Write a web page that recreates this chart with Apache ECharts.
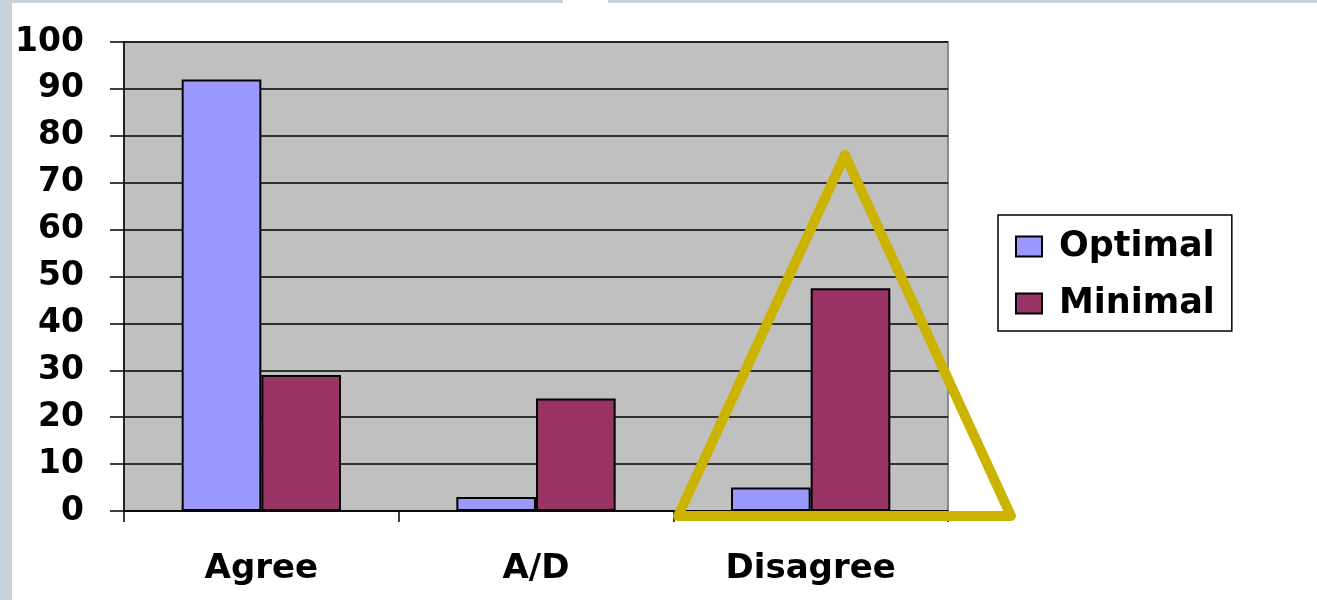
<!DOCTYPE html>
<html>
<head>
<meta charset="utf-8">
<script src="https://cdn.jsdelivr.net/npm/echarts@6/dist/echarts.min.js"></script>
<style>
  html, body { margin: 0; padding: 0; background: #ffffff; }
  #chart { width: 1317px; height: 600px; }
</style>
</head>
<body>
<div id="chart"></div>
<script>
// Survey responses by category
const categories = ['Agree', 'A/D', 'Disagree'];
const optimal = [92, 3, 5];
const minimal = [29, 24, 47.5];
const seriesNames = ['Optimal', 'Minimal'];
const yTicks = [0, 10, 20, 30, 40, 50, 60, 70, 80, 90, 100];

const FONT = '"DejaVu Sans", Verdana, sans-serif';

const chart = echarts.init(document.getElementById('chart'), null, { renderer: 'canvas' });

const barStyle = (color) => ({
  color: color,
  borderColor: '#000000',
  borderWidth: 2
});

chart.setOption({
  animation: false,
  backgroundColor: '#ffffff',
  grid: {
    left: 124, right: 369, top: 42, bottom: 89,
    show: true,
    backgroundColor: '#C0C0C0',
    borderColor: '#8a8a8a',
    borderWidth: 2
  },
  legend: {
    orient: 'vertical',
    left: 998, top: 215,
    padding: [14, 17, 10, 17],
    itemGap: 22,
    itemWidth: 26,
    itemHeight: 20,
    borderColor: '#000000',
    borderWidth: 1.5,
    icon: 'rect',
    data: seriesNames,
    textStyle: {
      fontFamily: FONT, fontWeight: 'bold', fontSize: 35, color: '#000000',
      padding: [0, 0, 0, 12]
    }
  },
  xAxis: {
    type: 'category',
    data: categories,
    axisLine: { lineStyle: { color: '#000000', width: 1.5 } },
    axisTick: { show: true, inside: false, length: 11, lineStyle: { color: '#000000', width: 1.5 } },
    axisLabel: {
      margin: 41,
      fontFamily: FONT, fontWeight: 'bold', fontSize: 34, color: '#000000'
    },
    splitLine: { show: false }
  },
  yAxis: {
    type: 'value',
    min: yTicks[0],
    max: yTicks[yTicks.length - 1],
    interval: 10,
    axisLine: { show: true, lineStyle: { color: '#000000', width: 1.5 } },
    axisTick: { show: true, inside: false, length: 14, lineStyle: { color: '#000000', width: 1.5 } },
    axisLabel: {
      margin: 40,
      fontFamily: FONT, fontWeight: 'bold', fontSize: 33, color: '#000000'
    },
    splitLine: { show: true, lineStyle: { color: '#000000', width: 1.5 } }
  },
  series: [
    {
      name: seriesNames[0], type: 'bar', data: optimal,
      barGap: '0%', barCategoryGap: '42%',
      itemStyle: barStyle('#9999FF')
    },
    {
      name: seriesNames[1], type: 'bar', data: minimal,
      itemStyle: barStyle('#993366')
    }
  ],
  graphic: [
    // slide frame strips
    { type: 'rect', left: 0, top: 0, shape: { width: 12, height: 600 }, style: { fill: '#C6D1DA' }, silent: true },
    { type: 'rect', left: 0, top: 0, shape: { width: 563, height: 3 }, style: { fill: '#C6D1DA' }, silent: true },
    { type: 'rect', left: 608, top: 0, shape: { width: 709, height: 3 }, style: { fill: '#C6D1DA' }, silent: true },
    // highlight triangle around the Disagree group
    {
      type: 'polygon',
      z: 100,
      shape: { points: [[845, 155], [678, 516], [1011, 516]] },
      style: { fill: 'none', stroke: '#CBB300', lineWidth: 10, lineJoin: 'round' },
      silent: true
    }
  ]
});
</script>
</body>
</html>
